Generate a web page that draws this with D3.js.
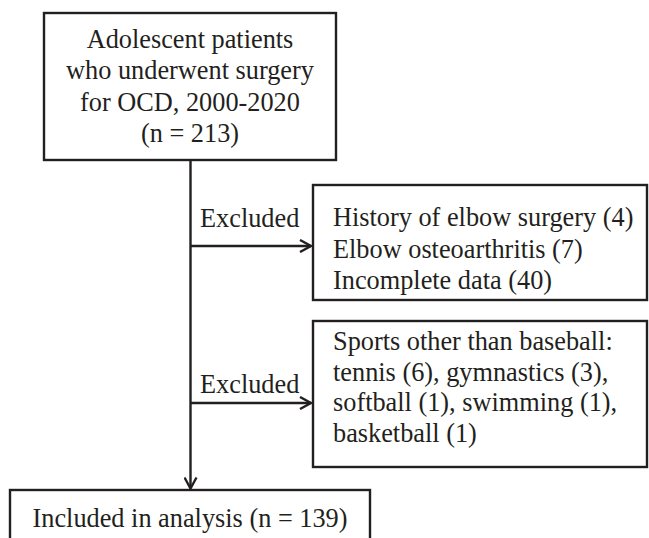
<!DOCTYPE html>
<html>
<head>
<meta charset="utf-8">
<script src="https://cdn.jsdelivr.net/npm/d3@7"></script>
<style>
  html, body { margin: 0; padding: 0; background: #fff; }
  svg { display: block; }
</style>
</head>
<body>
<svg width="649" height="538"></svg>
<script>
// text content of the flow diagram
const topLines = ['Adolescent patients', 'who underwent surgery', 'for OCD, 2000-2020', '(n = 213)'];
const exclusion1Lines = ['History of elbow surgery (4)', 'Elbow osteoarthritis (7)', 'Incomplete data (40)'];
const exclusion2Lines = ['Sports other than baseball:', 'tennis (6), gymnastics (3),', 'softball (1), swimming (1),', 'basketball (1)'];
const sideLabels = ['Excluded', 'Excluded'];
const bottomLines = ['Included in analysis (n = 139)'];

const svg = d3.select('svg');
const ink = '#231f20';
const font = '"Liberation Serif", "Times New Roman", serif';
const fontSize = 26.3;

// layout of boxes (x, y, w, h)
const boxes = [
  { x: 44, y: 13, w: 292, h: 147, lines: topLines, anchor: 'middle', first: 48, step: 31.3 },
  { x: 313, y: 185, w: 334, h: 115, lines: exclusion1Lines, anchor: 'start', first: 226, step: 31.5 },
  { x: 313, y: 321, w: 334, h: 146, lines: exclusion2Lines, anchor: 'start', first: 350, step: 30.5 },
  { x: 10, y: 490, w: 360, h: 80, lines: bottomLines, anchor: 'middle', first: 527, step: 31 }
];

const mainX = 190.5;

// arrowhead marker (open V)
svg.append('defs').append('marker')
  .attr('id', 'arrow')
  .attr('viewBox', '0 0 14 14')
  .attr('refX', 12.5)
  .attr('refY', 7)
  .attr('markerWidth', 14)
  .attr('markerHeight', 14)
  .attr('markerUnits', 'userSpaceOnUse')
  .attr('orient', 'auto')
  .append('path')
  .attr('d', 'M1.5,1 L12.5,7 L1.5,13')
  .attr('fill', 'none')
  .attr('stroke', ink)
  .attr('stroke-width', 2.4);

const g = svg.append('g');

// box rectangles
g.selectAll('rect.box')
  .data(boxes)
  .enter().append('rect')
  .attr('class', 'box')
  .attr('x', d => d.x)
  .attr('y', d => d.y)
  .attr('width', d => d.w)
  .attr('height', d => d.h)
  .attr('fill', 'none')
  .attr('stroke', ink)
  .attr('stroke-width', 2.4);

// box texts
boxes.forEach(b => {
  const tx = b.anchor === 'middle' ? b.x + b.w / 2 : b.x + 20;
  g.append('g').selectAll('text')
    .data(b.lines)
    .enter().append('text')
    .attr('x', tx)
    .attr('y', (d, i) => b.first + i * b.step)
    .attr('text-anchor', b.anchor)
    .attr('font-family', font)
    .attr('font-size', fontSize)
    .attr('fill', ink)
    .text(d => d);
});

// main vertical arrow
g.append('line')
  .attr('x1', mainX).attr('y1', boxes[0].y + boxes[0].h)
  .attr('x2', mainX).attr('y2', boxes[3].y - 1.5)
  .attr('stroke', ink)
  .attr('stroke-width', 2.4)
  .attr('marker-end', 'url(#arrow)');

// side arrows to exclusion boxes
const branchY = [246, 403];
const labelY = [227, 393];
branchY.forEach((y, i) => {
  g.append('line')
    .attr('x1', mainX).attr('y1', y)
    .attr('x2', boxes[i + 1].x - 2).attr('y2', y)
    .attr('stroke', ink)
    .attr('stroke-width', 2.4)
    .attr('marker-end', 'url(#arrow)');
  g.append('text')
    .attr('x', 200)
    .attr('y', labelY[i])
    .attr('font-family', font)
    .attr('font-size', fontSize)
    .attr('fill', ink)
    .text(sideLabels[i]);
});
</script>
</body>
</html>
